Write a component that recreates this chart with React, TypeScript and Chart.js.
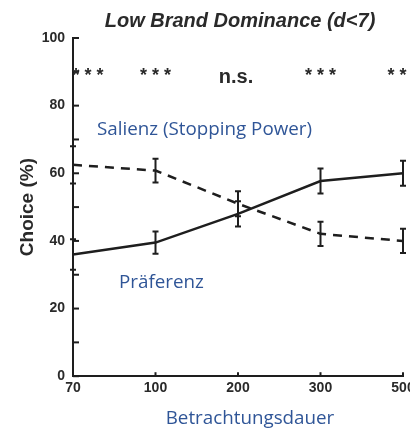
import React, { useEffect, useRef } from "react";
import { Chart, registerables } from "chart.js";

Chart.register(...registerables);

const categories = ["70", "100", "200", "300", "500"];
const praeferenz = [36, 39.5, 48, 57.7, 60];
const praeferenzErr = [4.5, 3.3, 3.7, 3.7, 3.7];
const salienz = [62.5, 60.8, 51, 42.1, 40];
const salienzErr = [5.5, 3.5, 3.7, 3.6, 3.6];
const sigLabels = ["***", "***", "n.s.", "***", "***"];
const sigLevel = 90;
const yTickLabels = [0, 20, 40, 60, 80, 100];

const INK = "#1e1e1e";
const BLUE = "#2F5597";
const SANS = "'Liberation Sans', Arial, sans-serif";

const overlayPlugin = {
  id: "overlay",
  afterDatasetsDraw(chart: any) {
    const ctx = chart.ctx;
    const xs = chart.scales.x;
    const ys = chart.scales.y;
    const area = chart.chartArea;
    ctx.save();
    // error bars
    const sets = [
      { v: praeferenz, e: praeferenzErr },
      { v: salienz, e: salienzErr },
    ];
    ctx.strokeStyle = INK;
    ctx.lineWidth = 2;
    ctx.setLineDash([]);
    sets.forEach((s) => {
      s.v.forEach((val, i) => {
        const x = xs.getPixelForValue(i);
        const y1 = ys.getPixelForValue(val + s.e[i]);
        const y2 = ys.getPixelForValue(val - s.e[i]);
        ctx.beginPath();
        ctx.moveTo(x, y1);
        ctx.lineTo(x, y2);
        ctx.moveTo(x - 3, y1);
        ctx.lineTo(x + 3, y1);
        ctx.moveTo(x - 3, y2);
        ctx.lineTo(x + 3, y2);
        ctx.stroke();
      });
    });
    // inward ticks
    ctx.lineWidth = 2;
    ys.ticks.forEach((t: any) => {
      const y = ys.getPixelForValue(t.value);
      ctx.beginPath();
      ctx.moveTo(area.left, y);
      ctx.lineTo(area.left + 6, y);
      ctx.stroke();
    });
    categories.forEach((_, i) => {
      const x = xs.getPixelForValue(i);
      ctx.beginPath();
      ctx.moveTo(x, area.bottom);
      ctx.lineTo(x, area.bottom - 4);
      ctx.stroke();
    });
    // significance row
    ctx.fillStyle = "#2a2a2a";
    const sy = ys.getPixelForValue(sigLevel);
    sigLabels.forEach((lab, i) => {
      let cx = xs.getPixelForValue(i);
      if (i === 0) cx += 15;
      ctx.textAlign = "center";
      ctx.textBaseline = "middle";
      if (lab === "***") {
        ctx.font = `bold 18px ${SANS}`;
        [-12, 0, 12].forEach((dx) => ctx.fillText("*", cx + dx, sy + 4));
      } else {
        ctx.font = `bold 20px ${SANS}`;
        ctx.fillText(lab, cx - 2, sy + 6);
      }
    });
    // title
    ctx.fillStyle = "#2a2a2a";
    ctx.font = `italic bold 20px ${SANS}`;
    ctx.textAlign = "center";
    ctx.textBaseline = "middle";
    ctx.fillText("Low Brand Dominance (d<7)", 240, 21);
    // blue annotations
    ctx.fillStyle = BLUE;
    ctx.font = `18.8px 'Open Sans', sans-serif`;
    ctx.textAlign = "left";
    ctx.fillText("Salienz (Stopping Power)", 97, 130);
    ctx.fillText("Präferenz", 119, 283);
    ctx.textAlign = "center";
    ctx.fillText("Betrachtungsdauer", 250, 419);
    ctx.restore();
  },
};

export default function App() {
  const ref = useRef<HTMLCanvasElement>(null);
  useEffect(() => {
    if (!ref.current) return;
    const chart = new Chart(ref.current, {
      type: "line",
      data: {
        labels: categories,
        datasets: [
          {
            label: "Präferenz",
            data: praeferenz,
            borderColor: INK,
            borderWidth: 2.5,
            pointRadius: 0,
            tension: 0,
          },
          {
            label: "Salienz (Stopping Power)",
            data: salienz,
            borderColor: INK,
            borderWidth: 2.5,
            borderDash: [9, 7],
            pointRadius: 0,
            tension: 0,
          },
        ],
      },
      options: {
        animation: false,
        responsive: false,
        maintainAspectRatio: false,
        devicePixelRatio: 1,
        layout: { padding: { left: 16, top: 38, right: 27, bottom: 28 } },
        plugins: {
          legend: { display: false },
          tooltip: { enabled: false },
          title: { display: false },
        },
        scales: {
          x: {
            type: "category",
            offset: false,
            grid: { display: false, drawTicks: false },
            border: { display: true, color: INK, width: 2 },
            ticks: {
              color: "#2a2a2a",
              font: { family: SANS, weight: "bold", size: 14 },
              padding: 4,
              maxRotation: 0,
              autoSkip: false,
            },
          },
          y: {
            min: 0,
            max: 100,
            afterFit: (scale: any) => {
              scale.width = 57;
            },
            grid: { display: false, drawTicks: false },
            border: { display: true, color: INK, width: 2 },
            ticks: {
              stepSize: 10,
              autoSkip: false,
              color: "#2a2a2a",
              font: { family: SANS, weight: "bold", size: 14 },
              padding: 8,
              callback: (v: any) => (yTickLabels.includes(Number(v)) ? String(v) : ""),
            },
            title: {
              display: true,
              text: "Choice (%)",
              color: "#2a2a2a",
              font: { family: SANS, weight: "bold", size: 19 },
              padding: { top: 0, bottom: 3 },
            },
          },
        },
      },
      plugins: [overlayPlugin],
    });
    return () => chart.destroy();
  }, []);
  return (
    <div
      style={{
        position: "fixed",
        left: 0,
        top: 0,
        width: 410,
        height: 429,
        overflow: "hidden",
        background: "#fff",
      }}
    >
      <canvas ref={ref} width={430} height={429} style={{ display: "block" }} />
    </div>
  );
}
